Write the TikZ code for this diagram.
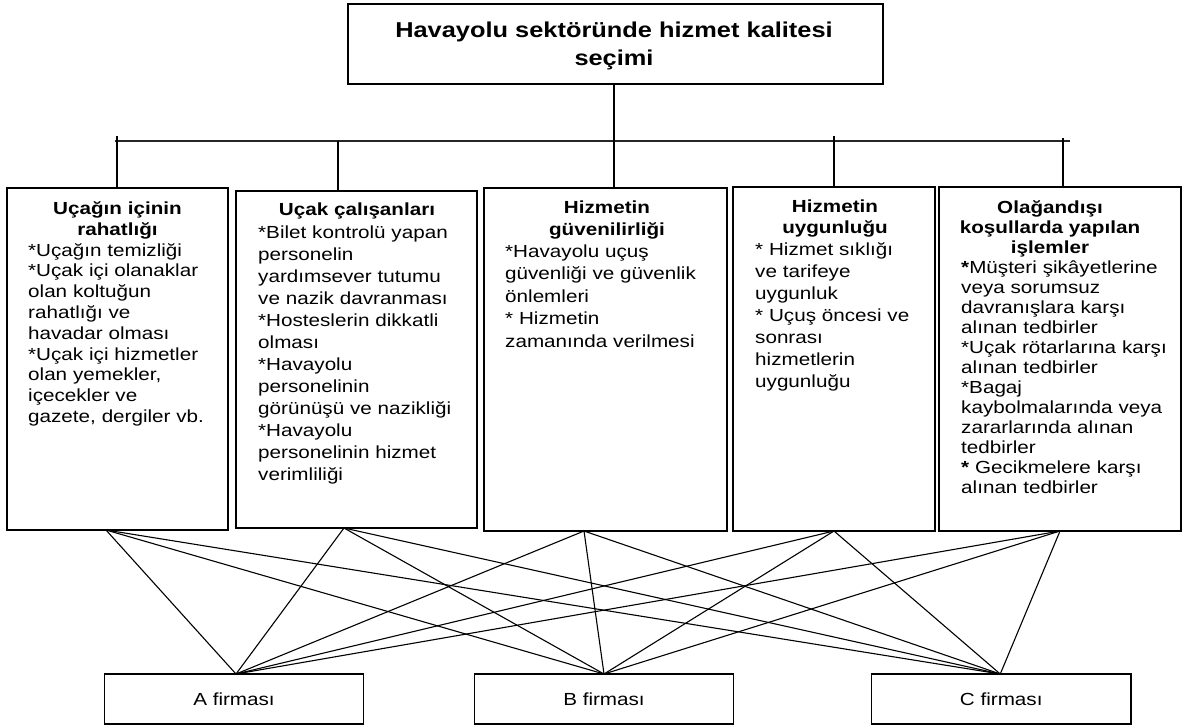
\documentclass[tikz,border=0pt]{standalone}
\usepackage{fontspec}
\setmainfont{Liberation Sans}[FakeStretch=1.18]
\begin{document}
\begin{tikzpicture}[x=1pt,y=-1pt,
  box/.style={draw, line width=1.1pt, inner sep=0pt, outer sep=0pt, anchor=north west},
  conn/.style={line width=1.1pt},
  head/.style={anchor=base, align=center, text width=240pt, inner sep=0pt, font=\bfseries\fontsize{17.5}{21}\selectfont},
  body/.style={anchor=base west, align=left, text width=235pt, inner sep=0pt},
  firm/.style={font=\fontsize{17.5}{21}\selectfont, inner sep=0pt}]
\useasboundingbox (0,0) rectangle (1185,726);
% boxes
\node[box, minimum width=535, minimum height=80] (top) at (348,4) {};
\node[box, minimum width=221, minimum height=342] (b1) at (7,188) {};
\node[box, minimum width=241, minimum height=337] (b2) at (236,191) {};
\node[box, minimum width=243, minimum height=343] (b3) at (484,188) {};
\node[box, minimum width=202, minimum height=344] (b4) at (733,187) {};
\node[box, minimum width=242, minimum height=344] (b5) at (939,187) {};
\node[box, minimum width=259, minimum height=50] (A) at (104.5,674) {};
\node[box, minimum width=259, minimum height=50] (B) at (474.5,674) {};
\node[box, minimum width=259.5, minimum height=50] (C) at (871.5,674) {};
% title
\node[anchor=base, align=center, text width=520pt, inner sep=0pt, font=\bfseries\fontsize{21.5}{28.5}\selectfont] (title) at (614,37)
  {Havayolu sektöründe hizmet kalitesi\\seçimi};
% firm labels
\node[firm] (la) at (A.center) {A firması};
\node[firm] (lb) at (B.center) {B firması};
\node[firm] (lc) at (C.center) {C firması};
% headers
\node[head] (h1t) at (117.5,214) {Uçağın içinin\\rahatlığı};
\node[head] (h2t) at (357,215) {Uçak çalışanları};
\node[head, font=\bfseries\fontsize{17.5}{22}\selectfont] (h3t) at (607,213) {Hizmetin\\güvenilirliği};
\node[head] (h4t) at (835,212) {Hizmetin\\uygunluğu};
\node[head, font=\bfseries\fontsize{17.5}{20}\selectfont] (h5t) at (1050,213) {Olağandışı\\koşullarda yapılan\\işlemler};
% bodies
\node[body, font=\fontsize{17.5}{20.8}\selectfont] (t1) at (28,256)
  {*Uçağın temizliği\\{}*Uçak içi olanaklar\\olan koltuğun\\rahatlığı ve\\havadar olması\\{}*Uçak içi hizmetler\\olan yemekler,\\içecekler ve\\gazete, dergiler vb.};
\node[body, font=\fontsize{17.5}{22}\selectfont] (t2) at (258,238)
  {*Bilet kontrolü yapan\\personelin\\yardımsever tutumu\\ve nazik davranması\\{}*Hosteslerin dikkatli\\olması\\{}*Havayolu\\personelinin\\görünüşü ve nazikliği\\{}*Havayolu\\personelinin hizmet\\verimliliği};
\node[body, font=\fontsize{17.5}{22.5}\selectfont] (t3) at (505,257)
  {*Havayolu uçuş\\güvenliği ve güvenlik\\önlemleri\\{}* Hizmetin\\zamanında verilmesi};
\node[body, font=\fontsize{17.5}{22}\selectfont] (t4) at (755,255)
  {* Hizmet sıklığı\\ve tarifeye\\uygunluk\\{}* Uçuş öncesi ve\\sonrası\\hizmetlerin\\uygunluğu};
\node[body, font=\fontsize{17.5}{20}\selectfont] (t5) at (961,273)
  {\textbf{*}Müşteri şikâyetlerine\\veya sorumsuz\\davranışlara karşı\\alınan tedbirler\\{}*Uçak rötarlarına karşı\\alınan tedbirler\\{}*Bagaj\\kaybolmalarında veya\\zararlarında alınan\\tedbirler\\{}\textbf{*} Gecikmelere karşı\\alınan tedbirler};
% bracket
\coordinate (hl) at (115,141);
\coordinate (hr) at (1070,141);
\draw[conn, draw=black!85] (hl) -- (hr);
\coordinate (s1) at (117,136);
\coordinate (s2) at (338,141);
\coordinate (s4) at (834,136);
\coordinate (s5) at (1063,138);
\draw[conn] (s1) -- (s1 |- b1.north);
\draw[conn] (s2) -- (s2 |- b2.north);
\draw[conn] (top.south -| 614,0) -- (b3.north -| 614,0);
\draw[conn] (s4) -- (s4 |- b4.north);
\draw[conn] (s5) -- (s5 |- b5.north);
% connector endpoints
\coordinate (p1) at ([xshift=-11.5pt]b1.south);
\coordinate (p2) at ([xshift=-12.5pt]b2.south);
\coordinate (p3) at ([xshift=-21.5pt]b3.south);
\coordinate (p4) at (b4.south);
\coordinate (p5) at (b5.south);
\coordinate (q1) at ([xshift=2pt]A.north);
\coordinate (q2) at (B.north);
\coordinate (q3) at ([xshift=-1pt]C.north);
\foreach \i in {1,...,5}{
  \foreach \j in {1,2,3}{
    \draw[conn] (p\i) -- (q\j);
  }
}
\end{tikzpicture}
\end{document}
